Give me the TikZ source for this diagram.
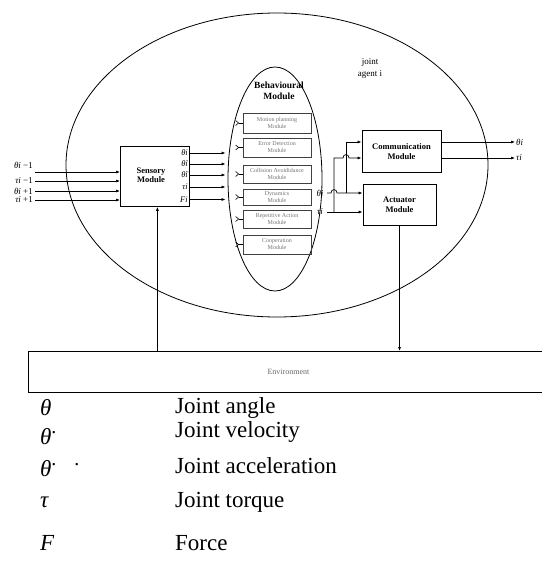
\documentclass[tikz,border=0pt]{standalone}
\usepackage{fontspec}
\setmainfont{Liberation Serif}
\usetikzlibrary{arrows.meta,shapes.geometric}
\newcommand{\sy}[1]{\textit{#1}}
\begin{document}
\begin{tikzpicture}[x=1pt,y=-1pt,
  arr/.style={-{Latex[length=4pt,width=3pt]}, line width=0.7pt},
  mainbox/.style={draw, line width=0.8pt, align=center, inner sep=0pt, font=\fontsize{8.5}{9.5}\selectfont\bfseries},
  sub/.style={draw=black!75, line width=0.8pt, align=center, inner sep=0pt, minimum width=68pt, text=black!55, font=\fontsize{6}{7}\selectfont},
  lab/.style={inner sep=0pt, font=\fontsize{9}{10}\selectfont},
  olab/.style={inner sep=0pt, anchor=east, font=\fontsize{8.5}{9}\selectfont},
  leg/.style={inner sep=0pt, anchor=west, font=\fontsize{23}{26}\selectfont},
  forkmark/.style={line width=0.6pt}
]
\useasboundingbox (0,0) rectangle (541,561);
% big ellipse
\node[draw, ellipse, line width=0.8pt, minimum width=422pt, minimum height=304pt, inner sep=0pt] (big) at (277,165) {};
\node[align=center, inner sep=0pt, font=\fontsize{9}{12}\selectfont] (agent) at (370,68) {joint\\agent i};
% behavioural ellipse
\node[draw, ellipse, line width=0.8pt, minimum width=94pt, minimum height=224pt, inner sep=0pt] (beh) at (275,179) {};
\node[align=center, inner sep=0pt, font=\fontsize{9.5}{10.5}\selectfont\bfseries] (behlab) at (279,91) {Behavioural\\Module};
\node[sub, minimum height=20pt] (m1) at (277,123) {Motion planning\\Module};
\node[sub, minimum height=19pt] (m2) at (277,147.5) {Error Detection\\Module};
\node[sub, minimum height=18pt] (m3) at (277,174) {Collision Avoididance\\Module};
\node[sub, minimum height=16pt] (m4) at (277,197) {Dynamics\\Module};
\node[sub, minimum height=18pt] (m5) at (277,219) {Repetitive Action\\Module};
\node[sub, minimum height=19pt] (m6) at (277,244.5) {Cooperation\\Module};
\foreach \m in {m1,m2,m3,m4,m5,m6}{
  \draw[forkmark] ([xshift=-7pt,yshift=-2.5pt]\m.west) -- ([xshift=-4pt]\m.west) -- ([xshift=-7pt,yshift=2.5pt]\m.west);
  \draw[forkmark] ([xshift=-4pt]\m.west) -- (\m.west);
}
% sensory
\node[mainbox, minimum width=69pt, minimum height=60pt, anchor=north west] (sens) at (120,146) {};
\node[align=center, inner sep=0pt, font=\fontsize{8.5}{9.5}\selectfont\bfseries] (senslab) at (151,175) {Sensory\\Module};
\node[olab] (o1) at (188,153) {\sy{θi}};
\node[olab] (o2) at (188,164) {\sy{θ̇i}};
\node[olab] (o3) at (188,175) {\sy{θ̈i}};
\node[olab] (o4) at (188,187) {\sy{τi}};
\node[olab] (o5) at (188,199.5) {\sy{Fi}};
\foreach \o in {o1,o2,o3,o4,o5}{
  \draw[arr] (sens.east |- \o) -- ([xshift=-2pt]beh.west |- \o);
}
% inputs
\node[lab, anchor=east] (i1) at (33,165) {\sy{θi} −1};
\node[lab, anchor=east] (i2) at (33,181) {\sy{τi} −1};
\node[lab, anchor=east] (i3) at (33,191) {\sy{θi} +1};
\node[lab, anchor=east] (i4) at (33,200) {\sy{τi} +1};
\coordinate (s1) at (35,172);
\coordinate (s2) at (35,181);
\coordinate (s3) at (35,191);
\coordinate (s4) at (35,200);
\foreach \s in {s1,s2,s3,s4}{
  \draw[arr] (\s) -- (sens.west |- \s);
}
% comm and actuator
\node[mainbox, minimum width=79pt, minimum height=42pt] (comm) at (401.5,151.5) {Communication\\Module};
\node[mainbox, minimum width=73pt, minimum height=41pt] (act) at (399.5,204.5) {Actuator\\Module};
% behaviour outputs
\node[lab] (bt) at (320,193) {\sy{θi}};
\node[lab] (bu) at (320,212) {\sy{τi}};
\coordinate (vA) at (334,0);
\coordinate (vB) at (346,0);
\draw[arr] (327,212) -- (act.west |- bu);
\draw[arr] (327,193) -- (331,193) .. controls (331,188.5) and (337,188.5) .. (337,193) -- (act.west |- bt);
\draw[arr] (vA |- bu) -- (334,158) -- (343,158) .. controls (343,153.5) and (349,153.5) .. (349,158) -- (comm.west |- 0,158);
\draw[arr] (vB |- bt) -- (346,142) -- (comm.west |- 0,142);
% comm outputs
\node[lab, anchor=west] (ct) at (516,142) {\sy{θi}};
\node[lab, anchor=west] (cu) at (516,158) {\sy{τi}};
\draw[arr] (comm.east |- ct) -- ([xshift=-1pt]ct.west);
\draw[arr] (comm.east |- cu) -- ([xshift=-1pt]cu.west);
% environment
\node[draw, line width=0.8pt, minimum width=520pt, minimum height=41pt, anchor=north west, inner sep=0pt, text=black!60, font=\fontsize{8}{9}\selectfont] (env) at (28,351) {Environment};
\draw[arr] (act.south) -- (act.south |- env.north);
\draw[arr] ([xshift=2.5pt]sens.south |- env.north) -- ([xshift=2.5pt]sens.south);
% legend
\node[leg] (l1) at (40,408) {\sy{θ}};
\node[leg] (l2) at (40,437) {\sy{θ}\raisebox{0.5em}{\fontsize{20}{20}\selectfont .}};
\node[leg] (l3) at (40,469) {\sy{θ}\raisebox{0.5em}{\fontsize{20}{20}\selectfont .\hspace{18pt}.}};
\node[leg] (l4) at (40,502) {\sy{τ}};
\node[leg] (l5) at (40,543) {\sy{F}};
\node[leg] (t1) at (175,408) {Joint angle};
\node[leg] (t2) at (175,432) {Joint velocity};
\node[leg] (t3) at (175,466) {Joint acceleration};
\node[leg] (t4) at (175,502) {Joint torque};
\node[leg] (t5) at (175,543) {Force};
\end{tikzpicture}
\end{document}
